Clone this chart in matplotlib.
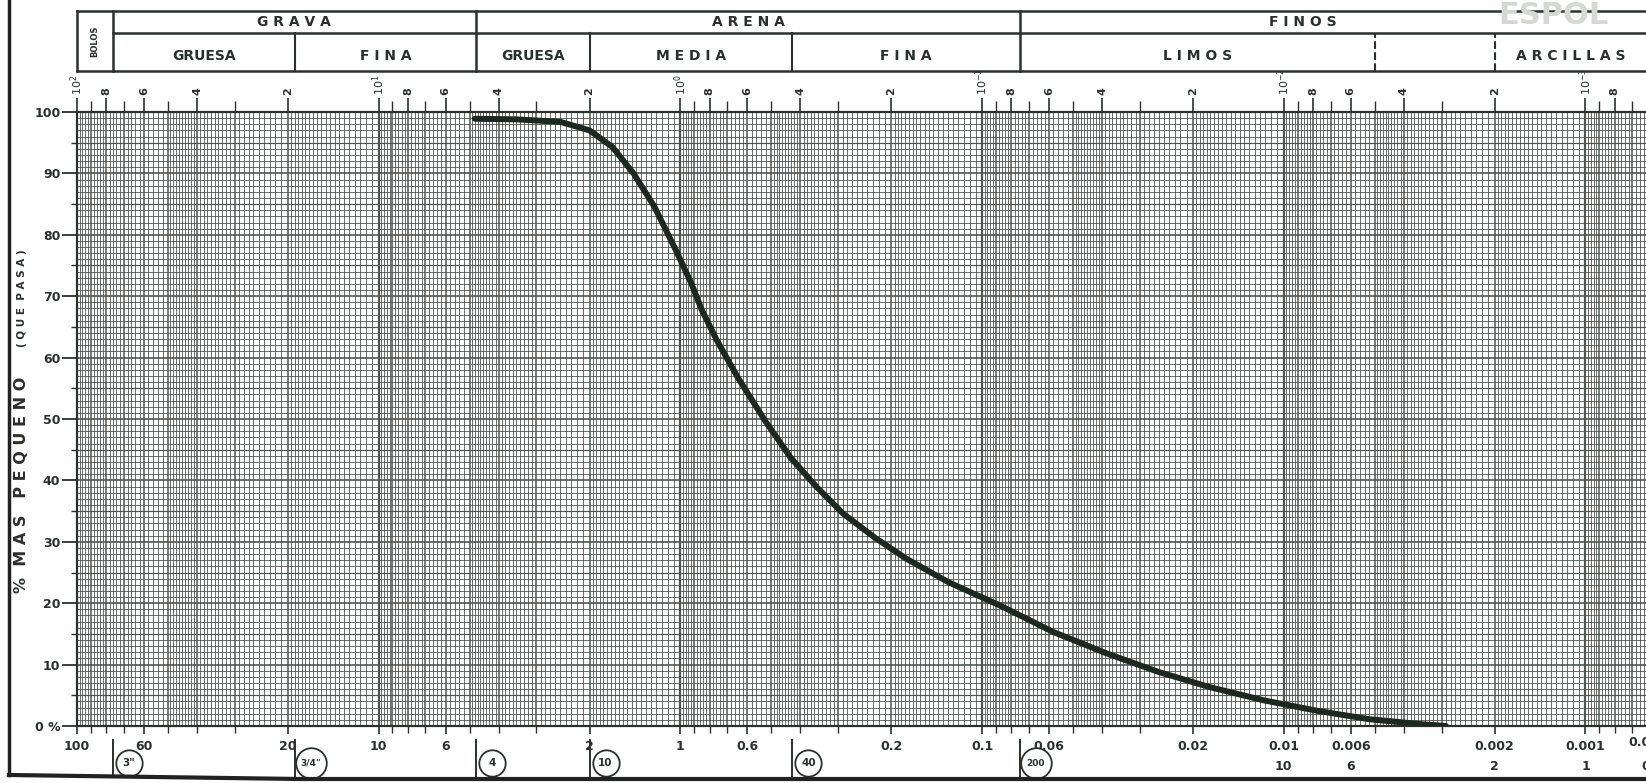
import numpy as np
import matplotlib
matplotlib.use('Agg')
import matplotlib.pyplot as plt
from matplotlib.lines import Line2D
from matplotlib.transforms import ScaledTranslation
from matplotlib.ticker import FixedLocator, NullFormatter

#################### Data ####################

# grain size (mm) and percent passing
diam = [4.8, 3.5, 2.5, 2.0, 1.68, 1.43, 1.22, 1.04, 0.92, 0.85, 0.755, 0.644, 0.527, 0.431,
        0.353, 0.289, 0.227, 0.179, 0.129, 0.087, 0.058, 0.039, 0.026, 0.0175, 0.0117,
        0.0078, 0.0052, 0.0035, 0.0029]
passing = [98.9, 98.8, 98.4, 97.0, 94.3, 90.0, 84.6, 77.7, 72.1, 67.8, 62.7, 56.7, 49.9, 43.7,
           38.9, 34.6, 30.7, 27.3, 23.4, 19.6, 15.3, 11.9, 8.8, 6.3, 4.2,
           2.5, 1.1, 0.3, 0.0]

# bottom scale (mm)
size_ticks = [100, 60, 20, 10, 6, 2, 1, 0.6, 0.2, 0.1, 0.06, 0.02, 0.01, 0.006, 0.002, 0.001, 0.0006]
size_labels = ['100', '60', '20', '10', '6', '2', '1', '0.6', '0.2', '0.1', '0.06',
               '0.02', '0.01', '0.006', '0.002', '0.001', '0.0006']
# second row (micras)
micron_at = [0.01, 0.006, 0.002, 0.001, 0.0006]
micron_labels = ['10', '6', '2', '1', '0.6']

# sieves
sieve_mm = [76.2, 19.0, 4.75, 2.0, 0.425, 0.075]
sieve_labels = ['3"', '3/4"', '4', '10', '40', '200']

# classification header
bolos_limit = 76.2
main_names = ['G R A V A', 'A R E N A', 'F I N O S']
main_limits = [76.2, 4.75, 0.075, 0.001]
sub_names = ['GRUESA', 'F I N A', 'GRUESA', 'M E D I A', 'F I N A', 'L I M O S', '', 'A R C I L L A S']
sub_limits = [76.2, 19.0, 4.75, 2.0, 0.425, 0.075, 0.005, 0.002, 0.00063]

y_ticks = [0, 10, 20, 30, 40, 50, 60, 70, 80, 90, 100]
y_labels = ['0 %', '10', '20', '30', '40', '50', '60', '70', '80', '90', '100']

#################### Figure ####################

W, H = 1646, 783
ink = '#2b302d'
grid_c = '#4f5652'

fig = plt.figure(figsize=(W / 100, H / 100), dpi=100)
fig.patch.set_facecolor('white')
ax_top, ax_bot = 112, 726
ax = fig.add_axes([77 / W, 1 - ax_bot / H, 1 - 77 / W, (ax_bot - ax_top) / H])
ax.set_xscale('log')
x_right = 6.3e-4
ax.set_xlim(100, x_right)
ax.set_ylim(0, 100)

def ay(py):
    # pixel row -> axes y coordinate
    return (ax_bot - py) / (ax_bot - ax_top)

# log paper grid
for k in range(-4, 2):
    base = 10.0 ** k
    for m in np.concatenate([np.arange(1, 2, 0.05), np.arange(2, 5, 0.1), np.arange(5, 10, 0.2)]):
        v = base * m
        if v > 100 or v < x_right:
            continue
        mr = round(m, 2)
        if mr == 1:
            lw = 1.6
        elif abs(mr - round(mr)) < 1e-6:
            lw = 1.1
        else:
            lw = 0.6
        ax.axvline(v, color=grid_c, lw=lw, zorder=1)
for p in range(0, 101):
    lw = 1.2 if p % 10 == 0 else (0.9 if p % 5 == 0 else 0.6)
    ax.axhline(p, color=grid_c, lw=lw, zorder=1)

# curve
ax.plot(diam, passing, color='#1e2823', lw=4.3, solid_capstyle='round',
        solid_joinstyle='round', zorder=5)

for s in ['left', 'bottom', 'top']:
    ax.spines[s].set_color(ink)
    ax.spines[s].set_linewidth(1.6)
ax.spines['right'].set_visible(False)

# bottom ticks
ax.xaxis.set_major_locator(FixedLocator(size_ticks[:-1]))
ax.set_xticklabels(size_labels[:-1])
ax.xaxis.set_minor_locator(FixedLocator([10.0 ** k * m for k in range(-4, 2) for m in range(2, 10)]))
ax.xaxis.set_minor_formatter(NullFormatter())
ax.tick_params(axis='x', which='major', length=6, width=1.2, color=ink, pad=4,
               labelsize=9, labelcolor=ink)
ax.tick_params(axis='x', which='minor', length=5, width=1.0, color=ink)
for t in ax.get_xticklabels():
    t.set_fontweight('bold')
xt = ax.get_xaxis_transform()
ax.text(size_ticks[-1], ay(743), size_labels[-1], transform=xt,
        ha='center', va='center', fontsize=9, fontweight='bold', color=ink, clip_on=False)
for d, lbl in zip(micron_at, micron_labels):
    ax.text(d, ay(766), lbl, transform=xt, ha='center', va='center',
            fontsize=9, fontweight='bold', color=ink, clip_on=False)

# y ticks
ax.set_yticks(y_ticks)
ax.set_yticklabels(y_labels)
ax.yaxis.set_minor_locator(FixedLocator([5, 15, 25, 35, 45, 55, 65, 75, 85, 95]))
ax.tick_params(axis='y', which='major', length=11, width=1.3, color=ink, pad=1,
               labelsize=9, labelcolor=ink)
ax.tick_params(axis='y', which='minor', length=4, width=1.0, color=ink)
for t in ax.get_yticklabels():
    t.set_fontweight('bold')
fig.text(22 / W, 1 - 485 / H, '%  M A S   P E Q U E N O', rotation=90, ha='center', va='center',
         fontsize=11.5, fontweight='bold', color=ink)
fig.text(22 / W, 1 - 298 / H, '( Q U E  P A S A )', rotation=90, ha='center', va='center',
         fontsize=7.5, fontweight='bold', color=ink)

# top scale
top_major, top_labels = [], []
for k in range(2, -4, -1):
    base = 10.0 ** k
    for m, lbl in [(1, r'$10^{%d}$' % k), (0.8, '8'), (0.6, '6'), (0.4, '4'), (0.2, '2')]:
        if base * m >= x_right:
            top_major.append(base * m)
            top_labels.append(lbl)
secax = ax.secondary_xaxis('top')
secax.xaxis.set_major_locator(FixedLocator(top_major))
secax.set_xticklabels(top_labels, rotation=90)
secax.xaxis.set_minor_locator(FixedLocator([10.0 ** k * m for k in range(-4, 2) for m in range(2, 10)]))
secax.xaxis.set_minor_formatter(NullFormatter())
secax.tick_params(which='major', length=10, width=1.2, color=ink, pad=2, labelsize=8, labelcolor=ink)
secax.tick_params(which='minor', length=8, width=1.0, color=ink)
for t in secax.get_xticklabels():
    t.set_fontweight('bold')
secax.spines['top'].set_visible(False)

# sieve markers
shift = xt + ScaledTranslation(11.5 / 72, 0, fig.dpi_scale_trans)
for d, lbl in zip(sieve_mm, sieve_labels):
    ax.plot([d, d], [ay(740), ay(776)], color=ink, lw=1.4, transform=xt, clip_on=False)
    ms = 22 if len(lbl) > 2 else 19
    ax.plot([d], [ay(763)], marker='o', ms=ms, mfc='white', mec=ink, mew=1.3,
            transform=shift, clip_on=False, zorder=6)
    ax.text(d, ay(763), lbl, transform=shift, ha='center', va='center',
            fontsize=6.5 if len(lbl) > 2 else 7.5, fontweight='bold',
            color=ink, clip_on=False, zorder=7)

# header table
y0, y1, y2 = ay(71), ay(33), ay(11)
hkw = dict(color=ink, lw=1.8, transform=xt, clip_on=False)
ax.plot([100, x_right], [y0, y0], **hkw)
ax.plot([100, x_right], [y2, y2], **hkw)
ax.plot([bolos_limit, x_right], [y1, y1], **hkw)
ax.plot([100, 100], [y0, y2], **hkw)
for d in main_limits[:-1]:
    ax.plot([d, d], [y0, y2], **hkw)
for d in sub_limits[1:-1]:
    if d in main_limits:
        continue
    ls = '--' if d < 0.075 else '-'
    ax.plot([d, d], [y0, y1], color=ink, lw=1.5, ls=ls, transform=xt, clip_on=False)
ax.text(np.sqrt(100 * bolos_limit), (y0 + y2) / 2, 'BOLOS', rotation=90, transform=xt,
        ha='center', va='center', fontsize=6, fontweight='bold', color=ink, clip_on=False)
for name, a, b in zip(main_names, main_limits[:-1], main_limits[1:]):
    ax.text(np.sqrt(a * b), (y1 + y2) / 2, name, transform=xt, ha='center', va='center',
            fontsize=10, fontweight='bold', color=ink, clip_on=False)
for name, a, b in zip(sub_names, sub_limits[:-1], sub_limits[1:]):
    ax.text(np.sqrt(a * b), ay(56), name, transform=xt, ha='center', va='center',
            fontsize=10, fontweight='bold', color=ink, clip_on=False)

# watermark
fig.text(1553 / W, 1 - 16 / H, 'ESPOL', ha='center', va='center', fontsize=22,
         fontweight='bold', color='#d6d8d6')

# scan frame
fig.add_artist(Line2D([9 / W, 9 / W], [1, 1 - 775 / H], color='#222', lw=2.5))
fig.add_artist(Line2D([9 / W, 300 / W, 1], [1 - 775 / H, 1 - 779 / H, 1 - 779 / H],
                      color='#222', lw=3))

fig.savefig('out.png', dpi=100, facecolor='white')
